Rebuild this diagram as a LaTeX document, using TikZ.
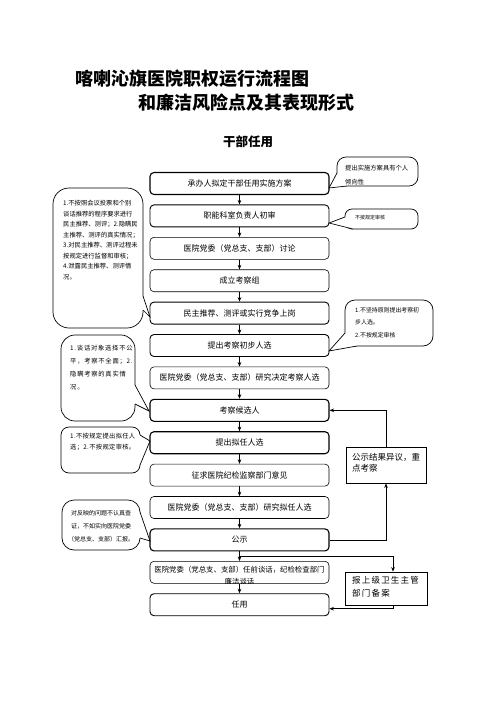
\documentclass[tikz,border=0pt]{standalone}
\usepackage{fontspec}
\setmainfont{Noto Sans CJK SC}
\usetikzlibrary{arrows.meta}
\begin{document}
\begin{tikzpicture}[x=1pt,y=-1pt,
  box/.style={draw, rounded corners=4pt, line width=0.9pt, minimum width=179pt, minimum height=22pt, inner sep=0pt, font=\fontsize{8}{9}\selectfont},
  thinbox/.style={box, line width=0.6pt},
  sqbox/.style={draw, line width=0.8pt, inner sep=0pt},
  arr/.style={-{Stealth[length=4.5pt,width=3.6pt]}, line width=0.7pt},
  bub/.style={draw, line width=0.7pt},
  bt/.style={inner sep=0pt, align=left, anchor=north west},
]
\fill[white] (0,0) rectangle (496,702);
\useasboundingbox (0,0) rectangle (496,702);

% titles
\node[anchor=west, inner sep=0pt, font=\fontsize{18}{20}\selectfont\bfseries] (t1) at (75,79) {喀喇沁旗医院职权运行流程图};
\node[anchor=west, inner sep=0pt, font=\fontsize{18}{20}\selectfont\bfseries] (t2) at (138,103) {和廉洁风险点及其表现形式};
\node[inner sep=0pt, font=\fontsize{12.5}{14}\selectfont\bfseries] (t3) at (248,142) {干部任用};

% bubble A
\draw[bub, rounded corners=9pt] (337,157) rectangle (418,186);
\fill[white] (340,173) -- (337,173) -- (329,188) -- (347,186) -- (347,183) -- (340,183) -- cycle;
\draw[bub] (337,173) -- (329,188) -- (347,186);
\node[bt, font=\fontsize{6.3}{14}\selectfont] (cA) at (345,165) {提出实施方案具有个人\\倾向性};

% bubble B
\draw[bub, rounded corners=7pt] (345,209) rectangle (418,229);
\fill[white] (348,217) -- (345,217) -- (329,223) -- (353,229) -- (353,226) -- (348,226) -- cycle;
\draw[bub] (345,217) -- (329,223) -- (353,229);
\node[inner sep=0pt, anchor=west, font=\fontsize{5}{6}\selectfont] (cB) at (355,218) {不按规定审核};

% bubble C
\draw[bub, rounded corners=16pt] (53,188) rectangle (143,328);
\fill[white] (140,296) -- (143,296) -- (150,317) -- (143,310) -- (140,310) -- cycle;
\draw[bub] (143,296) -- (150,317) -- (143,310);
\node[bt, font=\fontsize{6.3}{10.57}\selectfont] (cC) at (63,200) {1.不按照会议投票和个别\\谈话推荐的程序要求进行\\民主推荐、测评；2.隐瞒民\\主推荐、测评的真实情况；\\3.对民主推荐、测评过程未\\按规定进行监督和审核；\\4.泄露民主推荐、测评情\\况。};

% bubble D
\draw[bub, rounded corners=10pt] (345,300) rectangle (433,346);
\fill[white] (348,333) -- (345,333) -- (329,351) -- (357,346) -- (357,343) -- (348,343) -- cycle;
\draw[bub] (345,333) -- (329,351) -- (357,346);
\node[bt, font=\fontsize{5.9}{12.5}\selectfont] (cD) at (355,307.3) {1.不坚持原则提出考察初\\步人选。\\2.不按规定审核};

% bubble E
\draw[bub, rounded corners=14pt] (61,335) rectangle (135,421);
\fill[white] (132,385) -- (135,385) -- (149,411) -- (135,404) -- (132,404) -- cycle;
\draw[bub] (135,385) -- (149,411) -- (135,404);
\node[bt, font=\fontsize{6.3}{13}\selectfont\addfontfeatures{LetterSpace=12}] (cE) at (70,345) {1.谈话对象选择不公\\平，考察不全面；2.\\隐瞒考察的真实情\\况。};

% bubble F
\draw[bub, rounded corners=8pt] (61,427) rectangle (140,473);
\fill[white] (137,435) -- (140,435) -- (150,441) -- (140,465) -- (137,465) -- cycle;
\draw[bub] (140,435) -- (150,441) -- (140,465);
\node[bt, font=\fontsize{6.3}{11}\selectfont\addfontfeatures{LetterSpace=5}] (cF) at (70,433) {1.不按规定提出拟任人\\选；2.不按规定审核。};

% bubble G
\draw[bub, rounded corners=12pt] (62,500) rectangle (140,550);
\fill[white] (137,512) -- (140,512) -- (150,541) -- (140,538) -- (137,538) -- cycle;
\draw[bub] (140,512) -- (150,541) -- (140,538);
\node[inner sep=0pt, align=center, font=\fontsize{6}{13}\selectfont] (cG) at (101,526) {对反映的问题不认真查\\证，不如实向医院党委\\（党总支、支部）汇报。};

% main boxes
\node[box, line width=1.1pt] (n1) at (239.5,183.5) {承办人拟定干部任用实施方案};
\node[box] (n2) at (239.5,215.9) {职能科室负责人初审};
\node[thinbox] (n3) at (239.5,248.3) {医院党委（党总支、支部）讨论};
\node[thinbox] (n4) at (239.5,280.7) {成立考察组};
\node[box] (n5) at (239.5,313.1) {民主推荐、测评或实行竞争上岗};
\node[box] (n6) at (239.5,345.5) {提出考察初步人选};
\node[thinbox] (n7) at (239.5,377.9) {医院党委（党总支、支部）研究决定考察人选};
\node[box, line width=1.1pt] (n8) at (239.5,410.3) {考察候选人};
\node[box, line width=1.1pt] (n9) at (239.5,442.7) {提出拟任人选};
\node[thinbox] (n10) at (239.5,475.1) {征求医院纪检监察部门意见};
\node[thinbox] (n11) at (239.5,507.5) {医院党委（党总支、支部）研究拟任人选};
\node[box, line width=1.1pt] (n12) at (239.5,539.9) {公示};
\node[thinbox] (n13) at (239.5,572.3) {};
\begin{scope}
\clip (150,562) rectangle (329,583.6);
\node[inner sep=0pt, align=center, font=\fontsize{7.4}{11.5}\selectfont] (t13) at (239.5,575.8) {医院党委（党总支、支部）任前谈话，纪检检查部门\\廉洁谈话};
\end{scope}
\node[box] (n14) at (239.5,604.7) {任用};

% right boxes
\node[sqbox, minimum width=80pt, minimum height=36pt] (pub) at (386,465) {};
\node[bt, font=\fontsize{8.5}{11.5}\selectfont] (pubt) at (352,453) {公示结果异议，重\\点考察};
\node[sqbox, minimum width=82pt, minimum height=33pt] (rep) at (386,588.5) {};
\node[bt, font=\fontsize{8.5}{13}\selectfont\addfontfeatures{LetterSpace=14}] (rept) at (352,576) {报上级卫生主管\\部门备案};

% arrows
\foreach \a/\b in {n1/n2,n2/n3,n3/n4,n4/n5,n5/n6,n6/n7,n7/n8,n8/n9,n9/n10,n10/n11,n11/n12,n12/n13,n13/n14}
  \draw[arr] (\a.south) -- (\b.north);
\coordinate (br) at (239.5,556);
\draw[arr] (br) -| ([xshift=7pt]rep.north);
\draw[arr] (n12.east) -| (pub.south);
\draw[arr] (pub.north) |- (n8.east);
\draw[arr] ([xshift=7pt]rep.south) |- ([yshift=-4pt]n14.east);
\end{tikzpicture}
\end{document}
